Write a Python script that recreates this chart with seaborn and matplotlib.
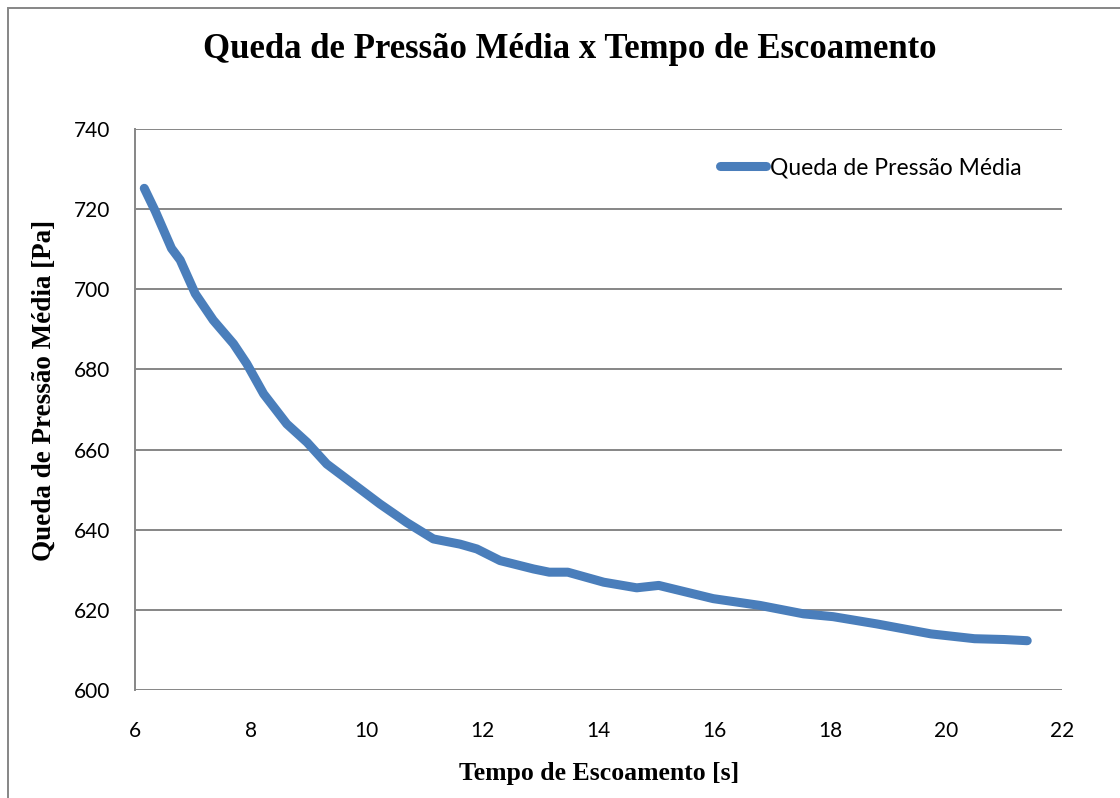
import matplotlib
matplotlib.use("Agg")
import matplotlib.pyplot as plt
import seaborn as sns
import pandas as pd
from matplotlib.patches import Rectangle

# Data
tempo = [6.16, 6.35, 6.63, 6.78, 7.04, 7.35, 7.70, 7.93, 8.22, 8.62, 8.97, 9.31,
         9.77, 10.23, 10.69, 11.15, 11.61, 11.90, 12.30, 12.88, 13.15, 13.47,
         14.09, 14.66, 15.04, 15.98, 16.79, 17.54, 18.05, 18.80, 19.74, 20.49,
         21.00, 21.40]
pressao = [725.2, 719.5, 710.2, 707.3, 698.9, 692.3, 686.4, 681.4, 673.9, 666.4,
           661.8, 656.4, 651.4, 646.4, 641.8, 637.7, 636.4, 635.2, 632.3, 630.2,
           629.4, 629.4, 626.9, 625.5, 626.1, 622.8, 621.1, 619.0, 618.3, 616.5,
           614.0, 612.8, 612.6, 612.3]
serie = "Queda de Pressão Média"
titulo = "Queda de Pressão Média x Tempo de Escoamento"
xlabel = "Tempo de Escoamento [s]"
ylabel = "Queda de Pressão Média [Pa]"
xticks = [6, 8, 10, 12, 14, 16, 18, 20, 22]
yticks = [600, 620, 640, 660, 680, 700, 720, 740]

df = pd.DataFrame({"t": tempo, "p": pressao, "s": serie})

sns.set_theme(style="white")
plt.rcParams["font.family"] = ["Lato", "DejaVu Sans"]
plt.rcParams["text.color"] = "black"

W, H = 1120, 798
fig = plt.figure(figsize=(W / 100, H / 100), dpi=100)
fig.patch.set_facecolor("white")
ax = fig.add_axes([135 / W, 1 - 690 / H, (1062 - 135) / W, (690 - 129) / H])

grid_c = "#868686"
line_c = "#4A7EBB"

sns.lineplot(data=df, x="t", y="p", hue="s", palette=[line_c], sort=False,
             linewidth=6.5, ax=ax, solid_capstyle="round", solid_joinstyle="round")

ax.set_xlim(6, 22)
ax.set_ylim(600, 740)
ax.set_xticks(xticks)
ax.set_yticks(yticks)
ax.set_xticklabels([str(v) for v in xticks])
ax.set_yticklabels([str(v) for v in yticks])
ax.tick_params(axis="both", length=0, labelsize=15, colors="black")
ax.tick_params(axis="y", pad=18)
ax.tick_params(axis="x", pad=22)
ax.yaxis.grid(True, color=grid_c, linewidth=1.4)
ax.xaxis.grid(False)
ax.set_axisbelow(True)
for side in ["top", "right", "bottom"]:
    ax.spines[side].set_visible(False)
ax.spines["left"].set_color(grid_c)
ax.spines["left"].set_linewidth(1.4)
ax.set_xlabel("")
ax.set_ylabel("")

leg = ax.legend(loc="center left", bbox_to_anchor=(720 / W, 1 - 168 / H),
                bbox_transform=fig.transFigure, frameon=False,
                fontsize=16.5, handlelength=2.0, handletextpad=0.2,
                borderaxespad=0.0, borderpad=0.0)
for h in leg.get_lines():
    h.set_linewidth(6.5)
    h.set_solid_capstyle("round")
for t in leg.get_texts():
    t.set_color("black")

serif = ["Liberation Serif", "DejaVu Serif"]
fig.text(570 / W, 1 - 49 / H, titulo, ha="center", va="center",
         fontsize=25, fontweight="bold", family=serif, color="black")
fig.text(599 / W, 1 - 780 / H, xlabel, ha="center", va="baseline",
         fontsize=18.5, fontweight="bold", family=serif, color="black")
fig.text(44 / W, 1 - 390 / H, ylabel, ha="center", va="center", rotation=90,
         fontsize=19.5, fontweight="bold", family=serif, color="black")

fig.patches.append(Rectangle((8 / W, -0.1), 1.2, 1 - 8 / H + 0.1, fill=False,
                             edgecolor=grid_c, linewidth=1.4,
                             transform=fig.transFigure, clip_on=False))

fig.savefig("out.png", dpi=100, facecolor="white")
